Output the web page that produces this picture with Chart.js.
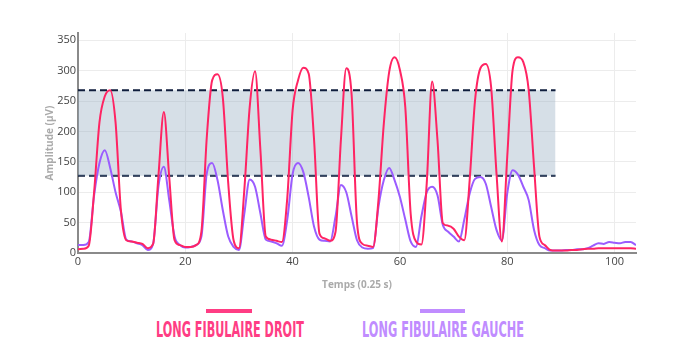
<!DOCTYPE html>
<html>
<head>
<meta charset="utf-8">
<script src="https://cdn.jsdelivr.net/npm/chart.js@4.4.1/dist/chart.umd.min.js"></script>
<style>
  html, body { margin: 0; padding: 0; background: #fff; width: 680px; height: 357px; overflow: hidden; }
  #wrap { position: relative; width: 680px; height: 357px; }
  #chartBox { position: absolute; left: 0; top: 0; width: 680px; height: 295px; }
  .leg { position: absolute; top: 300px; height: 50px; }
  .leg .ln { position: absolute; height: 4px; top: 9px; }
  .leg .tx { position: absolute; top: 17px; white-space: nowrap; font-family: "Liberation Sans Narrow", "DejaVu Sans Condensed", sans-serif; font-weight: bold; font-size: 22px; line-height: 26px; transform-origin: 0 0; }
</style>
</head>
<body>
<div id="wrap">
  <div id="chartBox"><canvas id="c"></canvas></div>
  <div class="leg" id="leg1"><div class="ln"></div><div class="tx"></div></div>
  <div class="leg" id="leg2"><div class="ln"></div><div class="tx"></div></div>
</div>
<script>
// ---- data ----
const timeSteps = [0,1,2,3,4,5,6,7,8,9,10,11,12,13,14,15,16,17,18,19,20,21,22,23,24,25,26,27,28,29,30,31,32,33,34,35,36,37,38,39,40,41,42,43,44,45,46,47,48,49,50,51,52,53,54,55,56,57,58,59,60,61,62,63,64,65,66,67,68,69,70,71,72,73,74,75,76,77,78,79,80,81,82,83,84,85,86,87,88,89,90,91,92,93,94,95,96,97,98,99,100,101,102,103,104];

const droit = [6,7,12,100,215,258,268,215,70,21,19,17,15,8,15,128,232,125,21,13,10,
  10,13,35,190,284,294,255,115,21,8,104,240,299,169,27,22,20,18,90,235,
  284,305,295,186,32,24,20,35,186,304,260,50,15,12,10,87,213,298,322,301,
  240,65,19,14,115,282,186,49,45,40,27,21,120,251,304,311,273,131,19,158,
  301,322,314,268,142,27,13,5,4,4,4,5,5,6,7,7,8,8,8,8,8,8,8,7];

const gauche = [13,13,18,95,148,169,140,100,68,22,19,16,13,5,15,110,142,87,27,13,9,
  10,13,27,131,148,120,70,27,10,5,65,121,109,65,22,19,16,12,55,130,
  148,133,92,43,22,20,19,60,112,100,60,21,9,7,8,76,120,140,120,92,
  55,19,10,60,100,109,95,46,35,27,19,55,98,122,125,114,76,38,21,98,
  136,129,109,87,38,13,8,4,4,4,5,5,6,6,8,12,16,15,18,17,16,18,18,13];

const bandRange = [0, 89];
const bandLow = 127;
const bandHigh = 268;

const xTicks = [0, 20, 40, 60, 80, 100];
const yTicks = [0, 50, 100, 150, 200, 250, 300, 350];

const seriesNames = ['LONG FIBULAIRE DROIT', 'LONG FIBULAIRE GAUCHE'];
const seriesColors = ['#ff2463', '#9b5cff'];
const legendColors = ['#ff3d84', '#c08cff'];

// ---- build ----
const toPts = arr => timeSteps.map((t, i) => ({ x: t, y: arr[i] }));

const ctx = document.getElementById('c');
new Chart(ctx, {
  type: 'line',
  data: {
    datasets: [
      {
        data: [{ x: bandRange[0], y: bandLow }, { x: bandRange[1], y: bandLow }],
        borderColor: '#0f1d3c', borderWidth: 2, borderDash: [7, 4],
        pointRadius: 0, fill: false, order: 5, tension: 0
      },
      {
        data: [{ x: bandRange[0], y: bandHigh }, { x: bandRange[1], y: bandHigh }],
        borderColor: '#0f1d3c', borderWidth: 2, borderDash: [7, 4],
        pointRadius: 0, fill: '-1', backgroundColor: 'rgba(140,165,188,0.36)', order: 4, tension: 0
      },
      {
        label: seriesNames[1], data: toPts(gauche),
        borderColor: seriesColors[1], borderWidth: 2, pointRadius: 0,
        cubicInterpolationMode: 'monotone', fill: false, order: 2
      },
      {
        label: seriesNames[0], data: toPts(droit),
        borderColor: seriesColors[0], borderWidth: 2, pointRadius: 0,
        cubicInterpolationMode: 'monotone', fill: false, order: 1
      }
    ]
  },
  options: {
    responsive: true, maintainAspectRatio: false, animation: false,
    layout: { padding: { left: 40, right: 44, top: 33, bottom: 0 } },
    plugins: { legend: { display: false }, tooltip: { enabled: false } },
    scales: {
      x: {
        type: 'linear', min: 0, max: 104,
        afterBuildTicks: s => { s.ticks = xTicks.map(v => ({ value: v })); },
        afterFit: s => { s.height = 42; },
        grid: { color: '#ececec', drawTicks: false, lineWidth: 1 },
        border: { color: '#8a8a8a', width: 2 },
        ticks: { color: '#444', font: { family: 'Open Sans', size: 11 }, padding: 2, maxRotation: 0 },
        title: { display: true, text: 'Temps (0.25 s)', color: '#aaa', font: { family: 'Open Sans', size: 10, weight: 'bold' }, padding: { top: 4, bottom: 4 } }
      },
      y: {
        min: 0, max: 362,
        afterBuildTicks: s => { s.ticks = yTicks.map(v => ({ value: v })); },
        afterFit: s => { s.width = 38; },
        grid: { color: '#ececec', drawTicks: false, lineWidth: 1 },
        border: { color: '#8a8a8a', width: 2 },
        ticks: { color: '#444', font: { family: 'Open Sans', size: 11 }, padding: 2 },
        title: { display: true, text: 'Amplitude (µV)', color: '#aaa', font: { family: 'Open Sans', size: 10, weight: 'bold' }, padding: { top: 4, bottom: 4 } }
      }
    }
  }
});

// ---- legend (HTML) ----
function setupLegend(id, name, color, textLeft, textWidth, lineLeft, lineWidth) {
  const el = document.getElementById(id);
  el.style.left = '0px';
  const ln = el.querySelector('.ln');
  ln.style.left = lineLeft + 'px'; ln.style.width = lineWidth + 'px'; ln.style.background = color;
  const tx = el.querySelector('.tx');
  tx.textContent = name; tx.style.color = color; tx.style.left = textLeft + 'px';
  const w = tx.getBoundingClientRect().width;
  tx.style.transform = 'scale(' + (textWidth / w) + ',1)';
}
setupLegend('leg1', seriesNames[0], legendColors[0], 156, 148, 206, 46);
setupLegend('leg2', seriesNames[1], legendColors[1], 362, 162, 420, 45);
</script>
</body>
</html>
